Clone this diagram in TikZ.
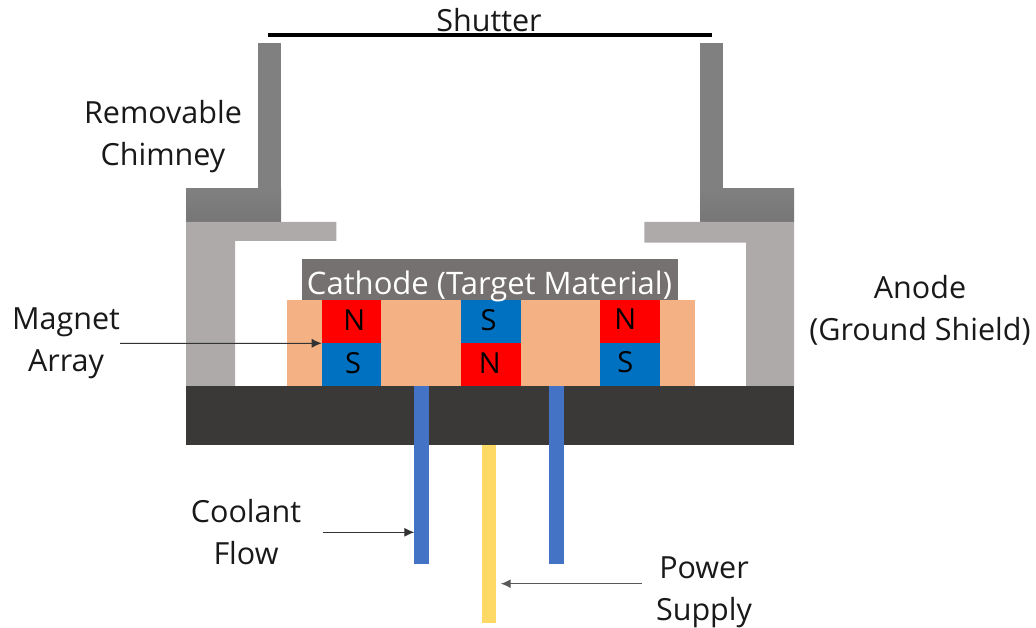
\documentclass[tikz,border=0pt]{standalone}
\usepackage{fontspec}
\setmainfont{Open Sans}
\usetikzlibrary{arrows.meta}
\definecolor{anodegray}{HTML}{AEAAAA}
\definecolor{chimflat}{HTML}{808080}
\definecolor{chimbot}{HTML}{767676}
\definecolor{cathgray}{HTML}{767171}
\definecolor{basedark}{HTML}{3B3838}
\definecolor{backing}{HTML}{F4B183}
\definecolor{magblue}{HTML}{0070C0}
\definecolor{coolblue}{HTML}{4472C4}
\definecolor{poweryellow}{HTML}{FFD966}
\tikzset{
  x=1pt,y=-1pt,
  block/.style={anchor=north west,inner sep=0pt,outer sep=0pt,draw=none},
  label/.style={align=center,inner sep=0pt,font=\fontsize{30.5}{42}\selectfont,text=black!90},
  pole/.style={inner sep=0pt,font=\fontsize{29}{30}\selectfont,text=black},
  lead/.style={draw=black!80,line width=1pt,-{Latex[length=10pt,width=9pt]}},
}
\newcommand{\rectnode}[6]{\node[block,fill=#2,minimum width=#5pt-#3pt,minimum height=#6pt-#4pt] (#1) at (#3,#4) {};}
\begin{document}
\begin{tikzpicture}
\useasboundingbox (0,0) rectangle (1036,628);
% chimney
\fill[chimflat] (257.7,43) rectangle (281,189);
\fill[chimflat] (700,43) rectangle (722.7,189);
\shade[top color=chimflat,bottom color=chimbot] (186,188.7) rectangle (281,222);
\shade[top color=chimflat,bottom color=chimbot] (700,188.7) rectangle (794,222);
% anode
\fill[anodegray] (186,222) -- (336.3,222) -- (336.3,241) -- (235,241) -- (235,386) -- (186,386) -- cycle;
\fill[anodegray] (794,222) -- (644.3,222) -- (644.3,242.7) -- (746,242.7) -- (746,386) -- (794,386) -- cycle;
% body
\rectnode{cathode}{cathgray}{301.7}{259.3}{678}{300}
\rectnode{backplate}{backing}{287.3}{300}{694.7}{386}
\rectnode{baseplate}{basedark}{186}{386}{794}{444.7}
\rectnode{powerlead}{poweryellow}{482}{444.7}{496.3}{622.7}
\rectnode{coolA}{coolblue}{414.3}{386}{429.3}{564.3}
\rectnode{coolB}{coolblue}{548.7}{386}{564}{564.3}
% magnets
\rectnode{mAtop}{red}{321.7}{300}{380.7}{343.3}
\rectnode{mAbot}{magblue}{321.7}{343.3}{380.7}{386}
\rectnode{mBtop}{magblue}{460.7}{300}{520.7}{343.3}
\rectnode{mBbot}{red}{460.7}{343.3}{520.7}{386}
\rectnode{mCtop}{red}{600.3}{300}{660.3}{342.7}
\rectnode{mCbot}{magblue}{600.3}{342.7}{660.3}{386}
\node[pole] at ([xshift=3pt,yshift=2pt]mAtop) {N};
\node[pole] at ([xshift=2pt,yshift=2pt]mAbot) {S};
\node[pole] at ([xshift=-2pt,yshift=2pt]mBtop) {S};
\node[pole] at ([xshift=-1pt,yshift=2pt]mBbot) {N};
\node[pole] at ([xshift=-5pt,yshift=2pt]mCtop) {N};
\node[pole] at ([xshift=-5pt,yshift=2pt]mCbot) {S};
% shutter
\coordinate (shutL) at (268,35);
\coordinate (shutR) at (712,35);
\draw[line width=4pt,black] (shutL) -- (shutR);
% labels
\node[label] (shutterlabel) at (489,20) {Shutter};
\node[label] (chimneylabel) at (163,136.5) {Removable\\Chimney};
\node[label] (anodelabel) at (920,310) {Anode\\(Ground Shield)};
\node[label] (magnetlabel) at (66,343.5) {Magnet\\Array};
\node[label] (coolantlabel) at (246,532.5) {Coolant\\Flow};
\node[label] (powerlabel) at (704,592) {Power\\Supply};
\node[label,text=white,font=\fontsize{31}{42}\selectfont] (cathodelabel) at (489.5,286) {Cathode (Target Material)};
% leads
\coordinate (magstart) at (120,343.5);
\coordinate (coolstart) at (322.7,532.3);
\coordinate (powstart) at (642,583.7);
\coordinate (powend) at (500.7,583.7);
\draw[lead] (magstart) -- (mAtop.south west);
\draw[lead] (coolstart) -- (coolA.west |- coolstart);
\draw[lead,draw=black!65,line width=1.4pt] (powstart) -- (powend);
\end{tikzpicture}
\end{document}
